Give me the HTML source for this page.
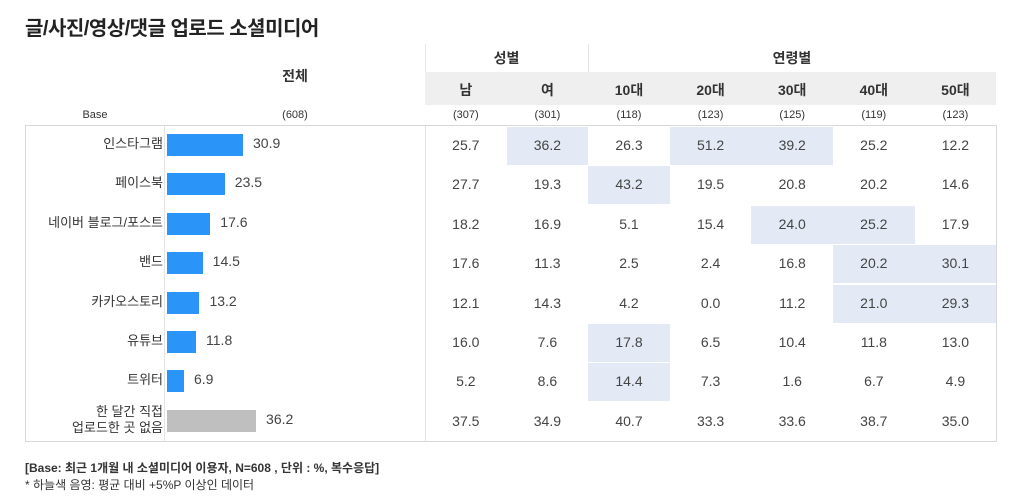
<!DOCTYPE html>
<html><head><meta charset="utf-8">
<style>
body{margin:0;background:#fff;font-family:"Liberation Sans","Noto Sans CJK KR",sans-serif;color:#333;}
#root{position:relative;width:1024px;height:501px;overflow:hidden;}
.a{position:absolute;white-space:nowrap;}
.c{text-align:center;}
</style></head><body>
<div id="root">
<div class="a" style="left:25px;top:12px;font-size:20px;font-weight:bold;color:#222;letter-spacing:-0.5px">글/사진/영상/댓글 업로드 소셜미디어</div>
<div class="a c" style="left:165px;width:260px;top:66px;font-size:14px;font-weight:bold">전체</div>
<div class="a" style="left:425px;top:72px;width:571px;height:33px;background:#efefef"></div>
<div class="a c" style="left:425px;width:163px;top:48px;font-size:14px;font-weight:bold">성별</div>
<div class="a c" style="left:588px;width:408px;top:48px;font-size:14px;font-weight:bold">연령별</div>
<div class="a" style="left:588px;top:44px;width:1px;height:28px;background:#e6e6e6"></div>
<div class="a" style="left:425px;top:44px;width:1px;height:28px;background:#e6e6e6"></div>
<div class="a c" style="left:60px;width:70px;top:109px;font-size:11px">Base</div>
<div class="a c" style="left:265px;width:60px;top:109px;font-size:11px">(608)</div>
<div class="a" style="left:25px;top:125px;width:970px;height:315px;border:1px solid #d8d8d8"></div>
<div class="a" style="left:164px;top:126px;width:1px;height:315px;background:#e3e3e3"></div>
<div class="a" style="left:425px;top:126px;width:1px;height:315px;background:#e3e3e3"></div>
<div id="cells"></div>
<div class="a" style="left:25px;top:459px;font-size:12px;font-weight:bold;color:#333">[Base: 최근 1개월 내 소셜미디어 이용자, N=608 , 단위 : %, 복수응답]</div>
<div class="a" style="left:25px;top:476px;font-size:12px;color:#333">* 하늘색 음영: 평균 대비 +5%P 이상인 데이터</div>
</div>
<script>
const categories=["인스타그램","페이스북","네이버 블로그/포스트","밴드","카카오스토리","유튜브","트위터","한 달간 직접<br>업로드한 곳 없음"];
const totals=[30.9,23.5,17.6,14.5,13.2,11.8,6.9,36.2];
const columns=["남","여","10대","20대","30대","40대","50대"];
const bases=["(307)","(301)","(118)","(123)","(125)","(119)","(123)"];
const values=[
[25.7,36.2,26.3,51.2,39.2,25.2,12.2],
[27.7,19.3,43.2,19.5,20.8,20.2,14.6],
[18.2,16.9,5.1,15.4,24.0,25.2,17.9],
[17.6,11.3,2.5,2.4,16.8,20.2,30.1],
[12.1,14.3,4.2,0.0,11.2,21.0,29.3],
[16.0,7.6,17.8,6.5,10.4,11.8,13.0],
[5.2,8.6,14.4,7.3,1.6,6.7,4.9],
[37.5,34.9,40.7,33.3,33.6,38.7,35.0]];
const highlights=[[1,3,4],[2],[4,5],[5,6],[5,6],[2],[2],[]];
const root=document.getElementById('cells');
const colX=c=>425+c*81.6, rowY=r=>126+r*39.4, barW=v=>v*2.46;
function add(html,style,name){const d=document.createElement('div');d.className='a';d.innerHTML=html;d.style.cssText=style;


root.appendChild(d);return d;}
columns.forEach((c,i)=>{
add(c,`left:${colX(i)}px;width:81.6px;top:80px;text-align:center;font-size:14px;font-weight:bold`,'column-header');
add(bases[i],`left:${colX(i)}px;width:81.6px;top:109px;text-align:center;font-size:11px`,'column-base');
});
categories.forEach((cat,r)=>{
const y=rowY(r);
highlights[r].forEach(c=>add('',`left:${colX(c)}px;top:${y+1}px;width:81.6px;height:38px;background:#e3eaf5`,'highlight-cell'));
const two=r===7;
add(cat,`left:25px;width:138px;top:${two?y+2:y+10}px;text-align:right;font-size:13px;line-height:16px;color:#333`,'row-label');
add('',`left:167px;top:${y+8}px;width:${barW(totals[r])}px;height:22px;background:${two?'#bfbfbf':'#2b94f8'}`,'total-bar');
add(totals[r].toFixed(1),`left:${167+barW(totals[r])+10}px;top:${y+9}px;font-size:14px;color:#444`,'total-value');
values[r].forEach((v,c)=>add(v.toFixed(1),`left:${colX(c)}px;width:81.6px;top:${y+11}px;text-align:center;font-size:14px;color:#444`,'data-cell'));
});
</script>
</body></html>
